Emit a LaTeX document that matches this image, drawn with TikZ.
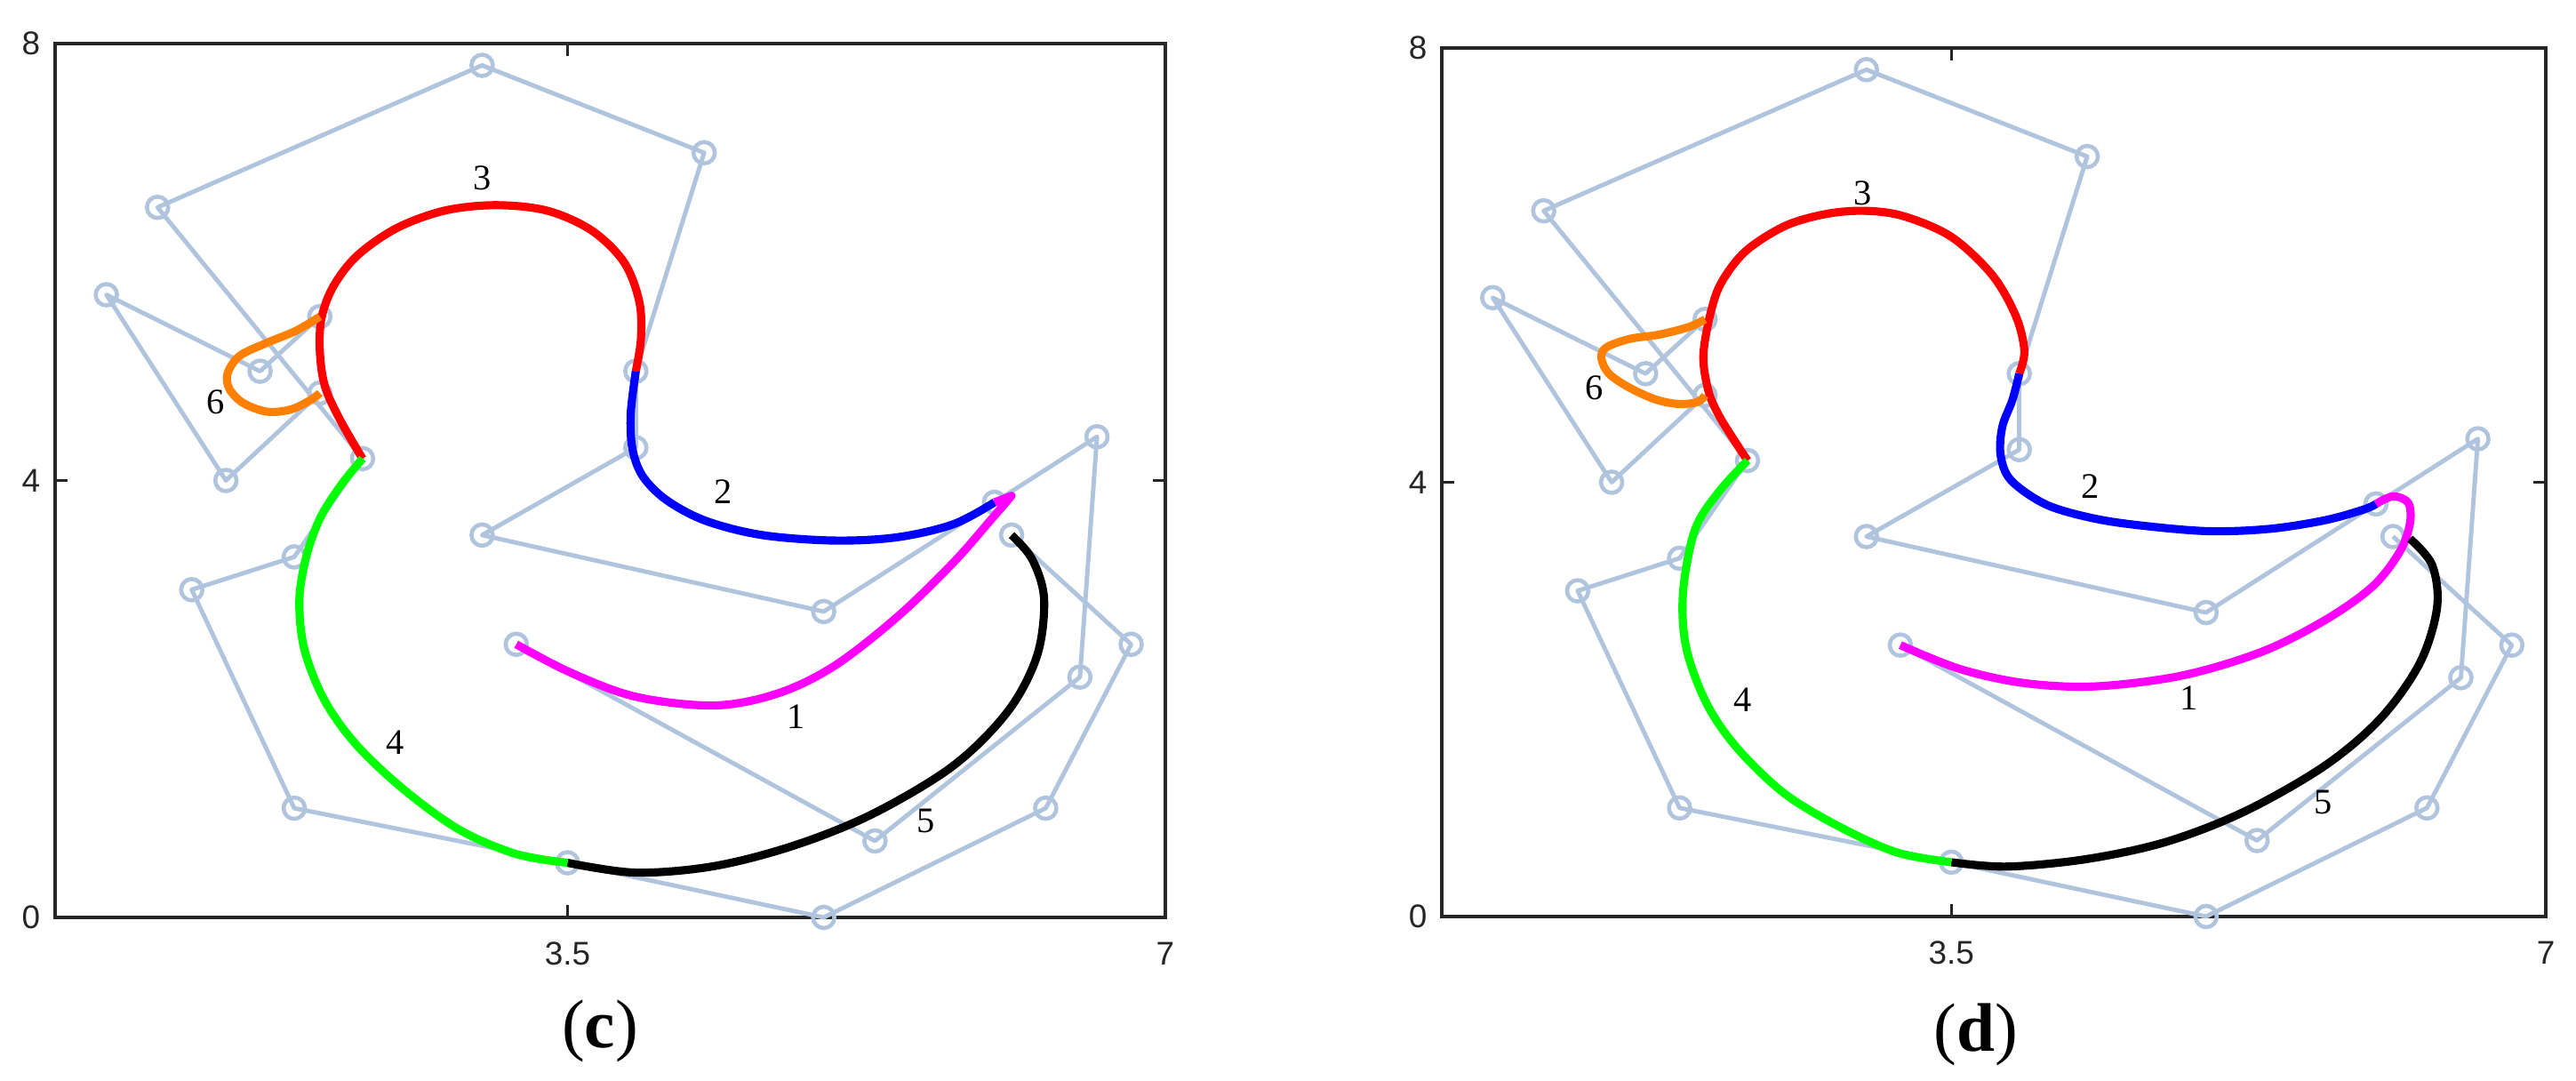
\documentclass[tikz,border=0pt]{standalone}
\usepackage{fontspec}
\setmainfont{Liberation Serif}
\newfontfamily\ticksf{Liberation Sans}
\definecolor{polyc}{RGB}{176,196,222}
\definecolor{axc}{RGB}{38,38,38}
\definecolor{orangec}{RGB}{255,128,0}
\definecolor{magc}{RGB}{255,0,255}
\definecolor{bluec}{RGB}{0,0,255}
\definecolor{redc}{RGB}{255,0,0}
\definecolor{greenc}{RGB}{0,255,0}
\tikzset{
  poly/.style={draw=polyc, line width=1.4pt, line join=round},
  cpt/.style={draw=polyc, line width=1.3pt},
  curve/.style={line width=2.6pt, line join=round},
  axisline/.style={draw=axc, line width=0.9pt},
  ticklab/.style={font=\ticksf\fontsize{10.5}{12}\selectfont, text=axc, inner sep=0pt},
  curvelab/.style={font=\fontsize{11.5}{13}\selectfont, inner sep=0pt},
  caplab/.style={font=\fontsize{22}{26}\selectfont, inner sep=0pt},
}
\newcommand\duckpts{%
  \coordinate (pA) at (3.2,2.5);
  \coordinate (pB) at (5.3,0.7);
  \coordinate (pC) at (6.5,2.2);
  \coordinate (pD) at (6.6,4.4);
  \coordinate (pE) at (6.0,3.8);
  \coordinate (pF) at (5.0,2.8);
  \coordinate (pG) at (3.0,3.5);
  \coordinate (pH) at (3.9,4.3);
  \coordinate (pI) at (3.9,5.0);
  \coordinate (pJ) at (4.3,7.0);
  \coordinate (pK) at (3.0,7.8);
  \coordinate (pL) at (1.1,6.5);
  \coordinate (pM) at (2.3,4.2);
  \coordinate (pN) at (1.9,3.3);
  \coordinate (pO) at (1.3,3.0);
  \coordinate (pP) at (1.9,1.0);
  \coordinate (pQ) at (3.5,0.5);
  \coordinate (pR) at (5.0,0.0);
  \coordinate (pS) at (6.3,1.0);
  \coordinate (pT) at (6.8,2.5);
  \coordinate (pU) at (6.1,3.5);
  \coordinate (pV) at (2.05,5.5);
  \coordinate (pW) at (1.7,5.0);
  \coordinate (pX) at (0.8,5.7);
  \coordinate (pY) at (1.5,4.0);
  \coordinate (pZ) at (2.05,4.8);
  \coordinate (bl) at (0.5,0);
  \coordinate (tr) at (7,8);
  \coordinate (xb) at (3.5,0);
  \coordinate (xt) at (3.5,8);
  \coordinate (yl) at (0.5,4);
  \coordinate (yr) at (7,4);
  \coordinate (y0) at (0.5,0);
  \coordinate (y8) at (0.5,8);
  \coordinate (x7) at (7,0);
}
\newcommand\duckframe{%
  \draw[axisline] (bl) rectangle (tr);
  \draw[axisline] (xb) -- ++(0,0.14cm);
  \draw[axisline] (xt) -- ++(0,-0.14cm);
  \draw[axisline] (yl) -- ++(0.14cm,0);
  \draw[axisline] (yr) -- ++(-0.14cm,0);
  \draw[poly] (pA)--(pB)--(pC)--(pD)--(pE)--(pF)--(pG)--(pH)--(pI)--(pJ)--(pK)--(pL)--(pM)--(pN)--(pO)--(pP)--(pQ)--(pR)--(pS)--(pT)--(pU);
  \draw[poly] (pV)--(pW)--(pX)--(pY)--(pZ);
  \foreach \p in {A,B,C,D,E,F,G,H,I,J,K,L,M,N,O,P,Q,R,S,T,U,V,W,X,Y,Z}
    \draw[cpt] (p\p) circle[radius=0.12cm];
}
\begin{document}
\begin{tikzpicture}
\fill[white] (0,0) rectangle (28.98,12.16);
\useasboundingbox (0,0) rectangle (28.98,12.16);

% ---------------- panel (c) ----------------
\begin{scope}[shift={(-0.3408cm,1.84cm)}, x=1.9215cm, y=1.2288cm]
\duckpts
\duckframe
\node[ticklab, xshift=-0.27cm] (cl0) at (y0) {0};
\node[ticklab, xshift=-0.27cm] (cl4) at (yl) {4};
\node[ticklab, xshift=-0.27cm] (cl8) at (y8) {8};
\node[ticklab, yshift=-0.41cm] (cl35) at (xb) {3.5};
\node[ticklab, yshift=-0.41cm] (cl7) at (x7) {7};
% curves
\draw[curve, redc] plot[smooth, tension=0.55] coordinates {(pM) (2.17,4.55) (2.08,4.86) (2.05,5.18) (2.06,5.49) (2.13,5.78) (2.27,6.06) (2.5,6.31) (2.78,6.47) (3.08,6.52) (3.38,6.47) (3.64,6.29) (3.83,6.0) (3.92,5.64) (3.93,5.30) (pI)};
\draw[curve, bluec] plot[smooth, tension=0.55] coordinates {(pI) (3.87,4.61) (3.88,4.29) (3.94,4.04) (4.08,3.82) (4.31,3.63) (4.64,3.50) (5.06,3.45) (5.43,3.48) (5.76,3.60) (pE)};
\draw[curve, magc] plot[smooth, tension=0.55] coordinates {(pA) (3.52,2.24) (3.9,2.02) (4.36,1.94) (4.73,2.05) (5.06,2.30) (5.43,2.75) (5.76,3.25) (5.99,3.66) (6.1,3.86)} -- (pE);
\draw[curve, black] plot[smooth, tension=0.55] coordinates {(pQ) (3.9,0.41) (4.36,0.47) (4.83,0.66) (5.29,0.95) (5.76,1.39) (6.08,1.89) (6.25,2.4) (6.29,2.92) (6.22,3.28) (pU)};
\draw[curve, greenc] plot[smooth, tension=0.55] coordinates {(pM) (2.17,3.95) (2.05,3.65) (1.97,3.3) (1.93,2.9) (1.96,2.45) (2.08,1.98) (2.27,1.57) (2.55,1.16) (2.87,0.8) (3.2,0.58) (pQ)};
\draw[curve, orangec] plot[smooth, tension=0.55] coordinates {(pV) (1.91,5.37) (1.74,5.26) (1.58,5.14) (1.51,4.98) (1.52,4.84) (1.6,4.71) (1.74,4.63) (1.88,4.65) (2.0,4.74) (pZ)};
\node[curvelab] (c1) at (4.84,1.84) {1};
\node[curvelab] (c2) at (4.41,3.90) {2};
\node[curvelab] (c3) at (3.0,6.77) {3};
\node[curvelab] (c4) at (2.49,1.60) {4};
\node[curvelab] (c5) at (5.6,0.88) {5};
\node[curvelab] (c6) at (1.44,4.72) {6};
\end{scope}

% ---------------- panel (d) ----------------
\begin{scope}[shift={(15.2646cm,1.85cm)}, x=1.9108cm, y=1.2213cm]
\duckpts
\duckframe
\node[ticklab, xshift=-0.27cm] (dl0) at (y0) {0};
\node[ticklab, xshift=-0.27cm] (dl4) at (yl) {4};
\node[ticklab, xshift=-0.27cm] (dl8) at (y8) {8};
\node[ticklab, yshift=-0.41cm] (dl35) at (xb) {3.5};
\node[ticklab, yshift=-0.41cm] (dl7) at (x7) {7};
\draw[curve, redc] plot[smooth, tension=0.55] coordinates {(pM) (2.216,4.40) (2.13,4.62) (2.07,4.84) (2.04,5.17) (2.086,5.58) (2.15,5.85) (2.29,6.13) (2.52,6.36) (2.76,6.47) (2.99,6.50) (3.22,6.45) (3.5,6.26) (3.74,5.91) (3.88,5.53) (3.93,5.21) (pI)};
\draw[curve, bluec] plot[smooth, tension=0.55] coordinates {(pI) (3.86,4.76) (3.8,4.51) (3.79,4.25) (3.85,4.02) (4.05,3.80) (4.3,3.68) (4.57,3.61) (5.0,3.55) (5.37,3.57) (5.7,3.65) (5.93,3.75) (pE)};
\draw[curve, magc] plot[smooth, tension=0.55] coordinates {(pA) (3.55,2.28) (3.93,2.15) (4.35,2.12) (4.86,2.22) (5.33,2.44) (5.7,2.73) (5.98,3.04) (6.14,3.36) (6.2,3.62) (6.19,3.81) (6.1,3.87) (pE)};
\draw[curve, black] plot[smooth, tension=0.55] coordinates {(pQ) (3.83,0.46) (4.3,0.53) (4.77,0.69) (5.23,0.97) (5.7,1.39) (6.03,1.83) (6.26,2.34) (6.36,2.85) (6.33,3.24) (6.2,3.48)};
\draw[curve, greenc] plot[smooth, tension=0.55] coordinates {(pM) (2.13,3.91) (1.99,3.56) (1.92,2.98) (1.94,2.47) (2.06,1.96) (2.24,1.55) (2.52,1.13) (2.85,0.82) (3.18,0.59) (pQ)};
\draw[curve, orangec] plot[smooth, tension=0.55] coordinates {(pV) (1.955,5.43) (1.78,5.36) (1.606,5.32) (1.467,5.24) (1.44,5.14) (1.484,5.0) (1.606,4.87) (1.763,4.76) (1.90,4.72) (2.007,4.74) (pZ)};
\node[curvelab] (d1) at (4.9,2.01) {1};
\node[curvelab] (d2) at (4.32,3.96) {2};
\node[curvelab] (d3) at (2.98,6.66) {3};
\node[curvelab] (d4) at (2.27,2.0) {4};
\node[curvelab] (d5) at (5.69,1.05) {5};
\node[curvelab] (d6) at (1.40,4.87) {6};
\end{scope}

\node[caplab] (capc) at (6.75,0.56) {(\textbf{c})};
\node[caplab] (capd) at (22.23,0.52) {(\textbf{d})};
\end{tikzpicture}
\end{document}
